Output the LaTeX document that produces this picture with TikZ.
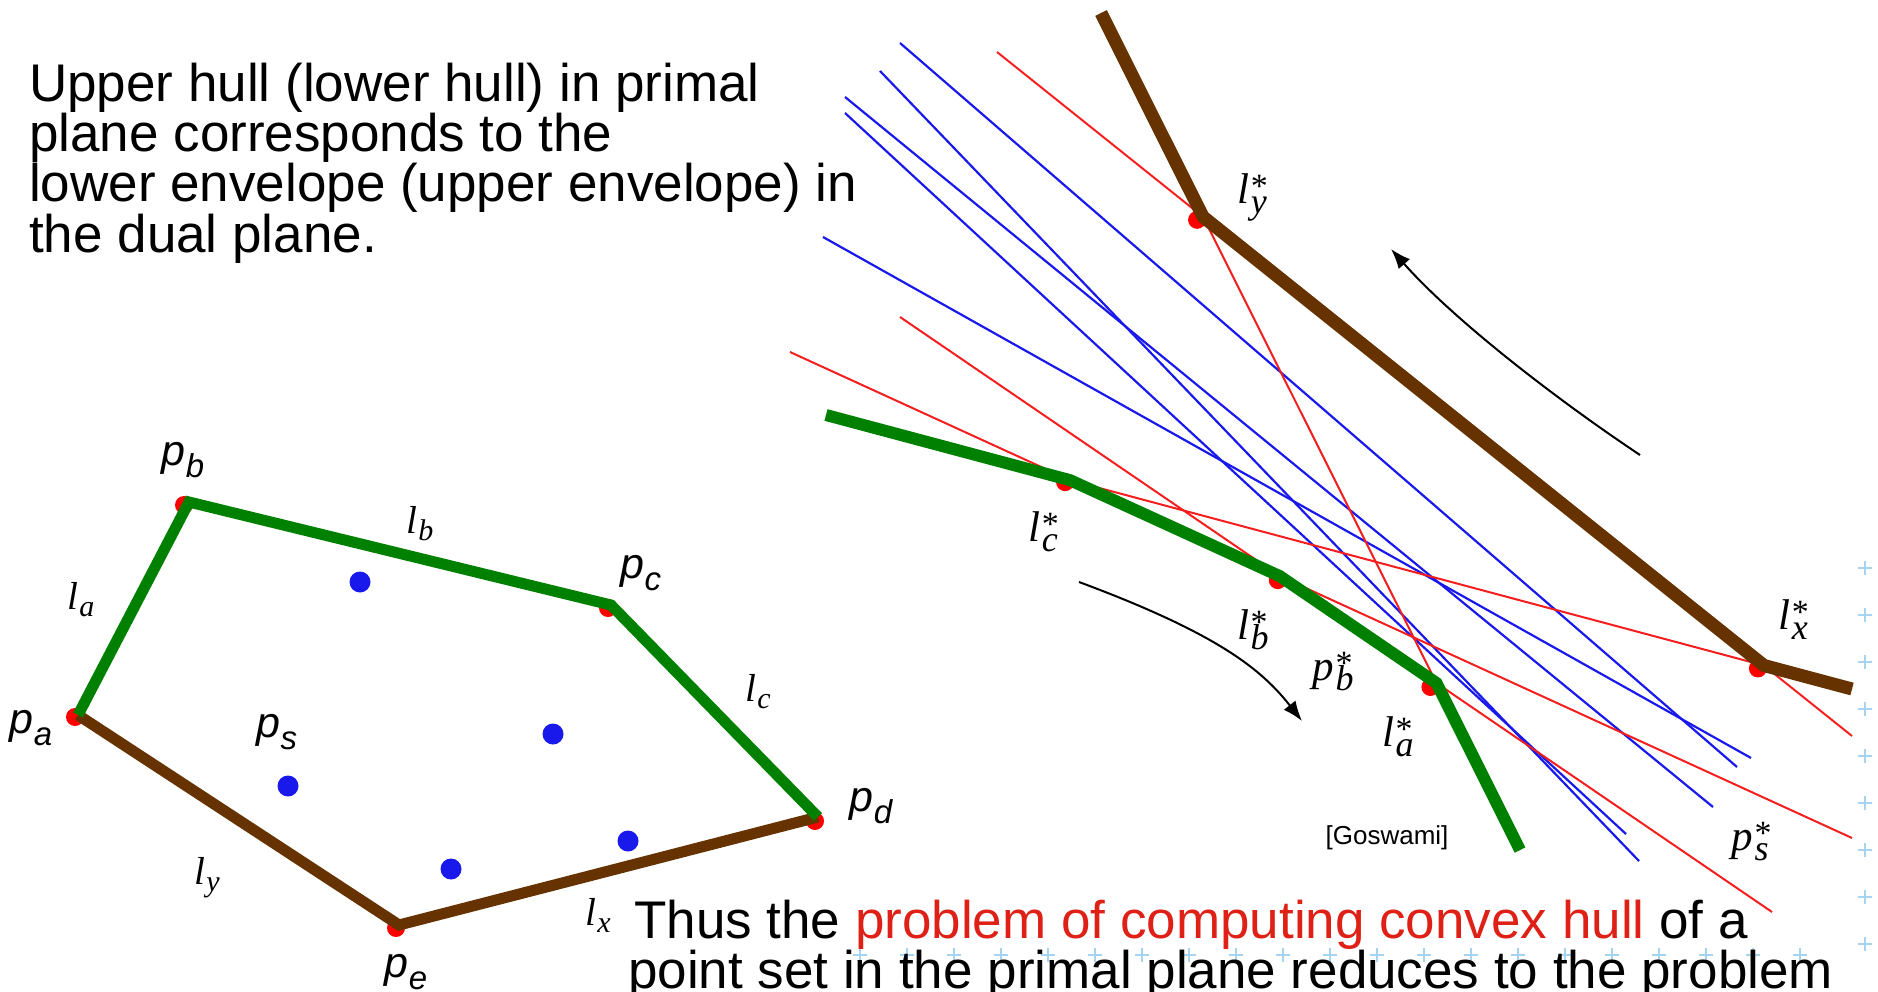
\documentclass[tikz,border=0pt]{standalone}
\usepackage{fontspec}
\setmainfont{Liberation Sans}
\newfontfamily\tms{Liberation Serif}
\usetikzlibrary{arrows.meta}
\definecolor{hullgreen}{RGB}{0,128,0}
\definecolor{hullbrown}{RGB}{102,51,0}
\definecolor{dualred}{RGB}{245,30,30}
\definecolor{dualblue}{RGB}{25,25,235}
\definecolor{textred}{RGB}{222,32,22}
\definecolor{plusblue}{RGB}{165,212,240}
\newcommand\bigtxt{\fontsize{53}{50}\selectfont}
\newcommand\goswfont{\fontsize{26}{26}\selectfont}
\newcommand\plab[1]{{\itshape\fontsize{43}{43}\selectfont p\raisebox{-12pt}{\fontsize{33}{33}\selectfont #1}}}
\newcommand\ltx[1]{{\tms\itshape\fontsize{39}{39}\selectfont l\kern1pt\raisebox{-7pt}{\fontsize{30}{30}\selectfont #1}}}
\newcommand\dst[2]{{\tms\itshape\fontsize{43}{43}\selectfont #1\kern1.5pt\makebox[0pt][l]{\raisebox{6pt}{\upshape\fontsize{34}{34}\selectfont *}}\raisebox{-10pt}{\fontsize{36}{36}\selectfont #2}}}
\begin{document}
\begin{tikzpicture}[x=1pt,y=-1pt,
  hullG/.style={draw=hullgreen,line width=12pt},
  hullB/.style={draw=hullbrown,line width=13pt},
  hullGL/.style={draw=hullgreen,line width=11pt},
  hullBL/.style={draw=hullbrown,line width=11pt},
  redline/.style={draw=dualred,line width=2pt},
  blueline/.style={draw=dualblue,line width=2.2pt},
  vdot/.style={circle,fill=red,inner sep=0pt,minimum size=18pt},
  bdot/.style={circle,fill=dualblue,inner sep=0pt,minimum size=21pt},
  lbl/.style={inner sep=0pt},
  txt/.style={anchor=base west,inner sep=0pt,font=\bigtxt},
  plusmark/.style={draw=plusblue,line width=2pt},
  arrowline/.style={draw=black,line width=2pt,-{Latex[length=20pt,width=15pt]}}
]
\useasboundingbox (0,0) rectangle (1878,992);

% background plus marks
\foreach \yy in {568,615,662,709,756,803,850,897,944}
  \draw[plusmark] (1858,\yy) -- (1872,\yy) (1865,\yy-7) -- (1865,\yy+7);
\foreach \xx in {860,907,...,1820}
  \draw[plusmark] (\xx-7,955) -- (\xx+7,955) (\xx,948) -- (\xx,962);

% ---------- dual plane ----------
\coordinate (a1) at (1101,13);  \coordinate (a2) at (1520,850);
\coordinate (b1) at (900,317);  \coordinate (b2) at (1772,912);
\coordinate (c1) at (790,352);  \coordinate (c2) at (1852,838);
\coordinate (d1) at (826,415);  \coordinate (d2) at (1852,689);
\coordinate (e1) at (997,52);   \coordinate (e2) at (1852,736);

\coordinate (qa1) at (900,43);  \coordinate (qa2) at (1737,767);
\coordinate (qb1) at (880,71);  \coordinate (qb2) at (1639,861);
\coordinate (qc1) at (845,97);  \coordinate (qc2) at (1713,807);
\coordinate (qd1) at (845,113); \coordinate (qd2) at (1626,834);
\coordinate (qe1) at (823,237); \coordinate (qe2) at (1751,758);

\coordinate (Ly) at (intersection of a1--a2 and e1--e2);
\coordinate (Lx) at (intersection of e1--e2 and d1--d2);
\coordinate (Lc) at (intersection of d1--d2 and c1--c2);
\coordinate (Lb) at (intersection of c1--c2 and b1--b2);
\coordinate (La) at (intersection of b1--b2 and a1--a2);

\draw[blueline] (qa1) -- (qa2);
\draw[blueline] (qb1) -- (qb2);
\draw[blueline] (qc1) -- (qc2);
\draw[blueline] (qd1) -- (qd2);
\draw[blueline] (qe1) -- (qe2);

\draw[redline] (a1) -- (a2);
\draw[redline] (b1) -- (b2);
\draw[redline] (c1) -- (c2);
\draw[redline] (d1) -- (d2);
\draw[redline] (e1) -- (e2);

\node[vdot] (dLy) at ([shift={(-6,3)}]Ly) {};
\node[vdot] (dLx) at ([shift={(-6,3)}]Lx) {};
\node[vdot] (dLc) at ([shift={(-5,2)}]Lc) {};
\node[vdot] (dLb) at ([shift={(-2,4)}]Lb) {};
\node[vdot] (dLa) at ([shift={(-6,4)}]La) {};

\draw[hullB] (a1) -- (Ly) -- (Lx) -- (d2);
\draw[hullG] (d1) -- (Lc) -- (Lb) -- (La) -- (a2);

\coordinate (ua1) at (1640,455); \coordinate (ua2) at (1391,249);
\draw[arrowline] (ua1) .. controls (1550,395) and (1451,317) .. (ua2);
\coordinate (la1) at (1079,582); \coordinate (la2) at (1302,721);
\draw[arrowline] (la1) .. controls (1219,634) and (1262,670) .. (la2);

\node[lbl] (tLy) at (1252,197) {\dst{l}{y}};
\node[lbl] (tLc) at (1043,532) {\dst{l}{c}};
\node[lbl] (tLb) at (1253,630) {\dst{l}{b}};
\node[lbl] (tPb) at (1333,672) {\dst{p}{b}};
\node[lbl] (tLa) at (1398,737) {\dst{l}{a}};
\node[lbl] (tLx) at (1793,620) {\dst{l}{x}};
\node[lbl] (tPs) at (1750,842) {\dst{p}{s}};
\node[lbl,font=\goswfont] (gos) at (1387,838) {[Goswami]};

% ---------- primal plane ----------
\coordinate (pa) at (78,715);
\coordinate (pb) at (189,502);
\coordinate (pc) at (611,605);
\coordinate (pd) at (818,817);
\coordinate (pe) at (399,925);

\node[bdot] (s1) at (360,582) {};
\node[bdot] (s2) at (553,734) {};
\node[bdot] (s3) at (288,786) {};
\node[bdot] (s4) at (451,869) {};
\node[bdot] (s5) at (628,841) {};

\node[vdot] (dpa) at ([shift={(-3,2)}]pa) {};
\node[vdot] (dpb) at ([shift={(-5,3)}]pb) {};
\node[vdot] (dpc) at ([shift={(-3,3)}]pc) {};
\node[vdot] (dpd) at ([shift={(-3,4)}]pd) {};
\node[vdot] (dpe) at ([shift={(-3,3)}]pe) {};

\draw[hullBL] (pd) -- (pe) -- (pa);
\draw[hullGL] (pa) -- (pb) -- (pc) -- (pd);

\node[lbl] (tpb) at (183,460) {\plab{b}};
\node[lbl] (tlb) at (420,524) {\ltx{b}};
\node[lbl] (tpc) at (641,573) {\plab{c}};
\node[lbl] (tla) at (81,600) {\ltx{a}};
\node[lbl] (tlc) at (758,692) {\ltx{c}};
\node[lbl] (tpa) at (31,728) {\plab{a}};
\node[lbl] (tps) at (277,732) {\plab{s}};
\node[lbl] (tpd) at (871,806) {\plab{d}};
\node[lbl] (tly) at (207,878) {\ltx{y}};
\node[lbl] (tpe) at (406,972) {\plab{e}};
\node[lbl] (tlx) at (598,915) {\ltx{x}};

% ---------- texts ----------
\node[txt] (t1) at (29,102) {Upper hull (lower hull) in primal};
\node[txt] (t2) at (29,152) {plane corresponds to the};
\node[txt] (t3) at (29,202) {lower envelope (upper envelope) in};
\node[txt] (t4) at (29,253) {the dual plane.};
\node[txt] (u1) at (634,938) {Thus the \textcolor{textred}{problem of computing convex hull} of a};
\node[txt] (u2) at (628,988) {point set in the primal plane reduces to the problem};
\end{tikzpicture}
\end{document}
